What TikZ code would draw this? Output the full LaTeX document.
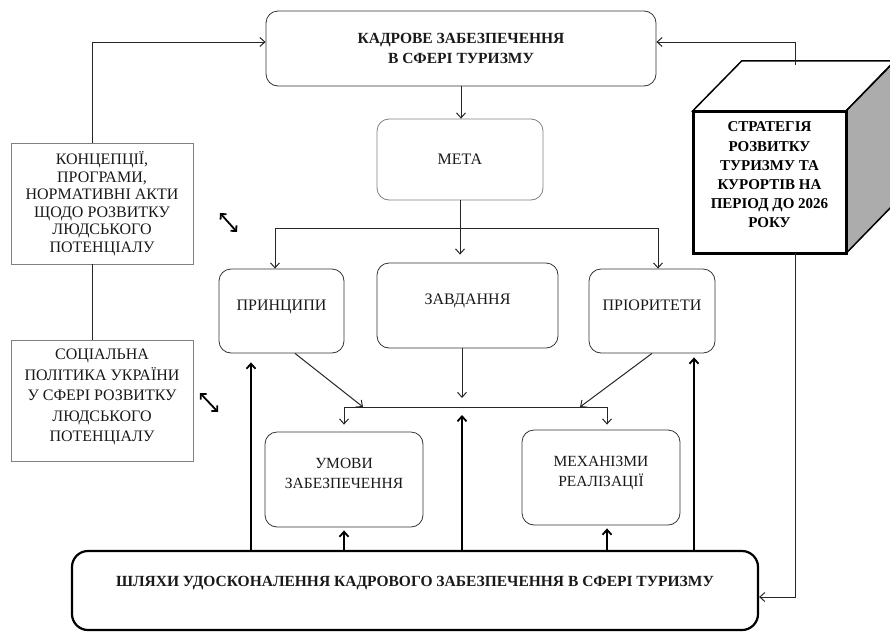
\documentclass[tikz,border=0pt]{standalone}
\usepackage{fontspec}
\setmainfont{Liberation Serif}
\usetikzlibrary{arrows.meta,calc}

\tikzset{
	box/.style={draw=black!80, line width=0.8pt, rounded corners=12pt, align=center, inner sep=0pt, text=black!90, font=\fontsize{16}{19}\selectfont},
	sidebox/.style={draw=gray, line width=0.8pt, align=center, inner sep=0pt, text=black!90, font=\fontsize{16}{17.5}\selectfont},
	raised/.style={text depth=12pt},
	link/.style={line width=1pt, draw=black!85},
	thicklink/.style={line width=1.8pt, draw=black},
}

\begin{document}
\begin{tikzpicture}[x=1pt, y=-1pt, >={Straight Barb[length=5pt,width=9pt]}]
	\useasboundingbox (0,0) rectangle (890,632);

	\node[box, minimum width=390pt, minimum height=75pt, font=\bfseries\fontsize{15.5}{20}\selectfont] (kadry) at (461,48.5) {КАДРОВЕ ЗАБЕЗПЕЧЕННЯ\\В СФЕРІ ТУРИЗМУ};
	\node[box, draw=gray, minimum width=166pt, minimum height=81pt] (meta) at (460,159.5) {МЕТА};
	\node[box, raised, minimum width=125pt, minimum height=84pt] (pryntsypy) at (281.5,311) {ПРИНЦИПИ};
	\node[box, raised, minimum width=181pt, minimum height=85pt] (zavdannia) at (467.5,305.5) {ЗАВДАННЯ};
	\node[box, raised, minimum width=126pt, minimum height=84pt] (priorytety) at (652,311) {ПРІОРИТЕТИ};
	\node[box, raised, minimum width=158pt, minimum height=95pt, font=\fontsize{15.5}{20}\selectfont] (umovy) at (344,479.5) {УМОВИ\\ЗАБЕЗПЕЧЕННЯ};
	\node[box, raised, minimum width=158pt, minimum height=95pt, font=\fontsize{15.5}{20}\selectfont] (mekh) at (601,477.5) {МЕХАНІЗМИ\\РЕАЛІЗАЦІЇ};
	\node[box, line width=2.2pt, draw=black, rounded corners=16pt, text depth=18pt, minimum width=686pt, minimum height=79pt, font=\bfseries\fontsize{15.5}{18}\selectfont] (shliakhy) at (415,590.5) {ШЛЯХИ УДОСКОНАЛЕННЯ КАДРОВОГО ЗАБЕЗПЕЧЕННЯ В СФЕРІ ТУРИЗМУ};
	\node[sidebox, minimum width=182pt, minimum height=121pt] (konts) at (102,203.5) {КОНЦЕПЦІЇ,\\ПРОГРАМИ,\\НОРМАТИВНІ АКТИ\\ЩОДО РОЗВИТКУ\\ЛЮДСЬКОГО\\ПОТЕНЦІАЛУ};
	\node[sidebox, text depth=10pt, minimum width=182pt, minimum height=121pt, font=\fontsize{16}{20.5}\selectfont] (sots) at (102,400.5) {СОЦІАЛЬНА\\ПОЛІТИКА УКРАЇНИ\\У СФЕРІ РОЗВИТКУ\\ЛЮДСЬКОГО\\ПОТЕНЦІАЛУ};

	\node[minimum width=153pt, minimum height=142pt, inner sep=0pt] (strat) at (769.5,182) {};
	\draw[line width=1.5pt, fill=white] (strat.north west) -- ++(49,-50) -- ++(153,0) -- (strat.north east) -- cycle;
	\draw[line width=1.5pt, fill=gray!65] (strat.north east) -- ++(49,-50) -- ++(0,142) -- (strat.south east) -- cycle;
	\node[draw, line width=3pt, minimum width=153pt, minimum height=142pt, inner sep=0pt, align=center, text depth=14pt, font=\bfseries\fontsize{15}{19.2}\selectfont] (stratText) at (strat) {СТРАТЕГІЯ\\РОЗВИТКУ\\ТУРИЗМУ ТА\\КУРОРТІВ НА\\ПЕРІОД ДО 2026\\РОКУ};

	\coordinate (stratTop) at (795,65);
	\coordinate (stratBot) at (795,253);
	\coordinate (split) at (460,228);
	\coordinate (join) at (462,407);
	\coordinate (joinL) at (363,407);
	\coordinate (joinR) at (580,407);
	\coordinate (upL) at (251,551);
	\coordinate (upM) at (607,551);
	\coordinate (upR) at (694,551);
	\coordinate (dblA) at (220,213);
	\coordinate (dblB) at (237,232);
	\coordinate (dblC) at (200,393);
	\coordinate (dblD) at (218,412);

	\draw[link,->] ([xshift=-9.5pt]konts.north) |- ([yshift=6.5pt]kadry.west);
	\draw[link] ([xshift=-9.5pt]konts.south) -- ([xshift=-9.5pt]sots.north);
	\draw[link,->] (stratTop) |- ([yshift=6.5pt]kadry.east);
	\draw[link,->] (kadry.south) -- (kadry.south |- meta.north);
	\draw[link] (meta.south) -- (split);
	\draw[link,->] (split) -| ([xshift=-6.5pt]pryntsypy.north);
	\draw[link,->] (split) -| ([xshift=6pt]priorytety.north);
	\draw[link,->,shorten >=8pt] (split) -- (split |- zavdannia.north);

	\draw[link,->] ([xshift=13.5pt]pryntsypy.south) -- (joinL);
	\draw[link,->] (priorytety.south) -- (joinR);
	\draw[link,->,shorten >=9pt] ([xshift=-5.5pt]zavdannia.south) -- (join);
	\draw[link,->,shorten >=7pt] (join) -| (umovy.north);
	\draw[link,->,shorten >=5pt] (join) -| ([xshift=6pt]mekh.north);

	\draw[thicklink,->,shorten >=8pt] (join |- shliakhy.north) -- (join);
	\draw[thicklink,->,shorten >=9pt] (upL) -- (upL |- pryntsypy.south);
	\draw[thicklink,->,shorten >=4pt] (upR) -- (upR |- priorytety.south);
	\draw[thicklink,->,shorten >=3pt] (umovy.south |- shliakhy.north) -- (umovy.south);
	\draw[thicklink,->,shorten >=3pt] (upM) -- (upM |- mekh.south);
	\draw[link,->] (stratBot) |- ([yshift=-6.5pt]shliakhy.east);

	\draw[thicklink,<->,>={Straight Barb[length=4pt,width=8pt]}] (dblA) -- (dblB);
	\draw[thicklink,<->,>={Straight Barb[length=4pt,width=8pt]}] (dblC) -- (dblD);
\end{tikzpicture}
\end{document}
